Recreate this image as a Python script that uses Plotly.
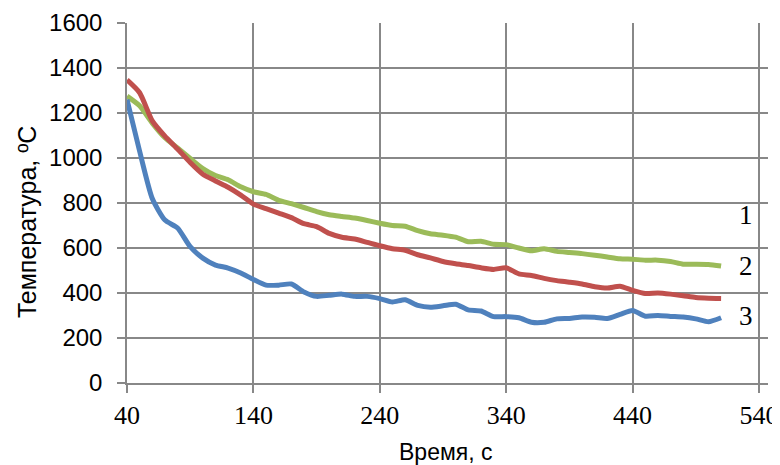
import plotly.graph_objects as go

time_s = [40, 50, 60, 70, 80, 90, 100, 110, 120, 130, 140, 150, 160, 170, 180, 190,
          200, 210, 220, 230, 240, 250, 260, 270, 280, 290, 300, 310, 320, 330, 340,
          350, 360, 370, 380, 390, 400, 410, 420, 430, 440, 450, 460, 470, 480, 490,
          500, 510]

temp_1 = [1275, 1232, 1155, 1090, 1045, 998, 953, 922, 903, 872, 850, 838, 812, 797,
          780, 762, 748, 740, 733, 722, 710, 700, 697, 677, 663, 657, 648, 628, 630,
          617, 615, 600, 588, 597, 585, 580, 575, 568, 560, 552, 550, 546, 546, 540,
          528, 528, 527, 520]

temp_2 = [1347, 1290, 1165, 1097, 1040, 980, 928, 898, 870, 835, 795, 775, 755, 735,
          708, 695, 665, 648, 640, 625, 610, 597, 590, 570, 556, 540, 530, 522, 512,
          505, 512, 485, 478, 465, 455, 448, 440, 428, 422, 430, 412, 398, 400, 395,
          388, 380, 377, 376]

temp_3 = [1260, 1030, 820, 724, 689, 606, 555, 524, 511, 489, 460, 435, 435, 440,
          405, 385, 390, 395, 385, 385, 375, 360, 370, 345, 337, 343, 350, 325, 320,
          295, 295, 290, 270, 270, 285, 287, 293, 292, 287, 305, 322, 297, 300, 296,
          293, 285, 272, 290]

series_labels = ["1", "2", "3"]
label_x = [530, 530, 530]
label_y = [747, 520, 299]

x_ticks = [40, 140, 240, 340, 440, 540]
y_ticks = [0, 200, 400, 600, 800, 1000, 1200, 1400, 1600]

colors = ["#9BBB59", "#C0504D", "#4F81BD"]
serif = "Liberation Serif, Times New Roman, serif"
sans = "Liberation Sans, Arial, sans-serif"

fig = go.Figure()
for vals, col, name in [(temp_1, colors[0], "1"), (temp_2, colors[1], "2"), (temp_3, colors[2], "3")]:
    fig.add_trace(go.Scatter(x=time_s, y=vals, mode="lines", name=name,
                             line=dict(color=col, width=5, shape="spline", smoothing=0.6)))

grid = "#888888"
# white box hiding gridlines behind curve labels
fig.add_shape(type="rect", xref="x", yref="y", x0=515.5, x1=560, y0=212, y1=866,
              fillcolor="white", line=dict(width=0), layer="below")

for t, lx, ly in zip(series_labels, label_x, label_y):
    fig.add_annotation(x=lx, y=ly, text=t, showarrow=False, xanchor="center", yanchor="middle",
                       font=dict(family=serif, size=27, color="black"))

# axis titles
fig.add_annotation(xref="paper", yref="paper", x=0.4969, y=-0.192, text="Время, с",
                   showarrow=False, xanchor="center", yanchor="middle",
                   font=dict(family=sans, size=23, color="black"))
fig.add_annotation(xref="paper", yref="paper", x=-0.156, y=0.447, text="Температура, ºС",
                   showarrow=False, xanchor="center", yanchor="middle", textangle=-90,
                   borderpad=0,
                   font=dict(family=sans, size=25, color="black"))

fig.update_layout(
    width=780, height=465,
    margin=dict(l=119, r=20, t=15, b=90),
    plot_bgcolor="white", paper_bgcolor="white",
    showlegend=False,
    font=dict(family=sans, color="black"),
)
fig.update_xaxes(range=[40, 547.1], tickvals=x_ticks, automargin=False,
                 showgrid=True, gridcolor=grid, gridwidth=1.5,
                 showline=True, linecolor=grid, linewidth=1.5,
                 ticks="outside", ticklen=8, tickcolor=grid, tickwidth=1.5,
                 ticklabelstandoff=0,
                 tickfont=dict(family=serif, size=26),
                 zeroline=False)
fig.update_yaxes(range=[0, 1600], tickvals=y_ticks, automargin=False,
                 showgrid=True, gridcolor=grid, gridwidth=1.5,
                 showline=True, linecolor=grid, linewidth=1.5,
                 ticks="outside", ticklen=8, tickcolor=grid, tickwidth=1.5,
                 ticklabelstandoff=10,
                 tickfont=dict(family=sans, size=24),
                 zeroline=False)

fig.write_html("out.html")
